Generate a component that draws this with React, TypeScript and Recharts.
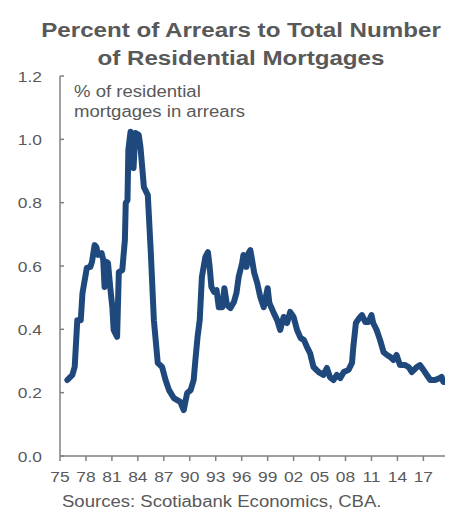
import React from 'react';
import { LineChart, Line, XAxis, YAxis } from 'recharts';

// readings (year as decimal, % of mortgages in arrears)
const years = [
  1975.85, 1976.43, 1976.7, 1977.0, 1977.4, 1977.6, 1978.1, 1978.5, 1978.7, 1979.0,
  1979.2, 1979.4, 1979.8, 1980.0, 1980.15, 1980.4, 1980.55, 1980.8, 1981.05, 1981.2,
  1981.6, 1981.8, 1982.2, 1982.3, 1982.5, 1982.6, 1982.8, 1982.9, 1983.15, 1983.35,
  1983.5, 1983.7, 1984.1, 1984.3, 1984.7, 1985.15, 1985.5, 1985.85, 1986.3, 1986.8,
  1987.2, 1987.6, 1988.15, 1988.9, 1989.3, 1989.7, 1990.1, 1990.45, 1990.65, 1990.9,
  1991.15, 1991.4, 1991.8, 1992.1, 1992.3, 1992.5, 1992.8, 1993.1, 1993.35, 1993.75,
  1994.0, 1994.3, 1994.7, 1995.1, 1995.4, 1995.65, 1996.05, 1996.2, 1996.55, 1996.8,
  1997.0, 1997.2, 1997.45, 1997.8, 1998.15, 1998.55, 1999.0, 1999.2, 1999.7, 2000.1,
  2000.45, 2000.85, 2001.25, 2001.6, 2002.0, 2002.4, 2002.8, 2003.2, 2003.55, 2003.9,
  2004.3, 2004.9, 2005.45, 2005.85, 2006.2, 2006.6, 2007.0, 2007.4, 2007.8, 2008.35,
  2008.75, 2008.9, 2009.2, 2009.6, 2009.9, 2010.3, 2010.65, 2011.0, 2011.2, 2011.6,
  2012.0, 2012.4, 2012.8, 2013.15, 2013.55, 2013.9, 2014.3, 2014.9, 2015.3, 2015.65,
  2016.25, 2016.6, 2017.0, 2017.4, 2017.8, 2018.35, 2018.9, 2019.1, 2019.3, 2019.5,
];

const arrears = [
  0.24, 0.256, 0.282, 0.429, 0.429, 0.515, 0.594, 0.597, 0.613, 0.666,
  0.66, 0.635, 0.641, 0.619, 0.534, 0.613, 0.609, 0.534, 0.47, 0.398,
  0.376, 0.581, 0.587, 0.619, 0.682, 0.799, 0.808, 0.966, 1.024, 0.935,
  0.909, 1.02, 1.014, 0.976, 0.849, 0.824, 0.641, 0.429, 0.294, 0.281,
  0.24, 0.208, 0.183, 0.171, 0.145, 0.199, 0.208, 0.24, 0.303, 0.376,
  0.429, 0.565, 0.628, 0.644, 0.597, 0.534, 0.518, 0.524, 0.47, 0.47,
  0.53, 0.477, 0.467, 0.486, 0.515, 0.565, 0.609, 0.635, 0.597, 0.641,
  0.65, 0.619, 0.578, 0.546, 0.502, 0.47, 0.53, 0.483, 0.452, 0.429,
  0.398, 0.439, 0.42, 0.455, 0.439, 0.398, 0.373, 0.366, 0.344, 0.325,
  0.281, 0.265, 0.256, 0.278, 0.249, 0.24, 0.256, 0.246, 0.265, 0.272,
  0.294, 0.344, 0.42, 0.436, 0.445, 0.423, 0.423, 0.445, 0.42, 0.398,
  0.366, 0.328, 0.319, 0.313, 0.303, 0.319, 0.287, 0.287, 0.281, 0.265,
  0.281, 0.287, 0.272, 0.256, 0.24, 0.24, 0.246, 0.25, 0.234, 0.234,
];

const xTicks = [1975, 1978, 1981, 1984, 1987, 1990, 1993, 1996, 1999, 2002, 2005, 2008, 2011, 2014, 2017];
const yTicks = [0, 0.2, 0.4, 0.6, 0.8, 1.0, 1.2];

const data = years.map((year, i) => ({ year, value: arrears[i] }));

const FONT = '"Liberation Sans", Arial, sans-serif';
const GREY = '#595959';
const AXIS = '#808080';
const STRETCH = 1.16;

const YTick = (props: any) => {
  const { x, y, payload } = props;
  return (
    <g>
      <line x1={60} x2={64} y1={y} y2={y} stroke={AXIS} strokeWidth={1.5} />
      <g transform={`translate(${x},${y}) scale(${STRETCH},1)`}>
        <text x={0} y={0} dy={5.5} textAnchor="end" fontFamily={FONT} fontSize={15} fill={GREY}>
          {Number(payload.value).toFixed(1)}
        </text>
      </g>
    </g>
  );
};

const XTick = (props: any) => {
  const { x, y, payload } = props;
  return (
    <g transform={`translate(${x},${y}) scale(${STRETCH},1)`}>
      <text x={0} y={0} dy={21} textAnchor="middle" fontFamily={FONT} fontSize={15} fill={GREY}>
        {String(payload.value).slice(2)}
      </text>
    </g>
  );
};

const App: React.FC = () => {
  return (
    <div style={{ position: 'absolute', left: 0, top: 0, width: 459, height: 516, background: '#fff' }}>
      <LineChart width={459} height={516} data={data} margin={{ top: 76, right: 14, bottom: 30, left: 0 }}>
        <XAxis
          dataKey="year"
          type="number"
          domain={[1975, 2019.5]}
          ticks={xTicks}
          interval={0}
          height={30}
          tickSize={5}
          tickMargin={0}
          axisLine={{ stroke: AXIS, strokeWidth: 1.5 }}
          tickLine={{ stroke: AXIS, strokeWidth: 1.5 }}
          tick={<XTick />}
          allowDataOverflow
        />
        <YAxis
          domain={[0, 1.2]}
          ticks={yTicks}
          interval={0}
          width={60}
          tickSize={0}
          tickMargin={18}
          axisLine={{ stroke: AXIS, strokeWidth: 1.5 }}
          tickLine={false}
          tick={<YTick />}
        />
        <Line
          type="linear"
          dataKey="value"
          stroke="#1F497D"
          strokeWidth={6}
          strokeLinejoin="round"
          strokeLinecap="round"
          dot={false}
          isAnimationActive={false}
        />
      </LineChart>
      <svg width={459} height={516} style={{ position: 'absolute', left: 0, top: 0, pointerEvents: 'none' }}>
        <g transform={`translate(241,37) scale(1.15,1)`}>
          <text textAnchor="middle" fontFamily={FONT} fontWeight="bold" fontSize={21} fill={GREY}>
            Percent of Arrears to Total Number
          </text>
        </g>
        <g transform={`translate(241,65) scale(1.15,1)`}>
          <text textAnchor="middle" fontFamily={FONT} fontWeight="bold" fontSize={21} fill={GREY}>
            of Residential Mortgages
          </text>
        </g>
        <g transform={`translate(74,97) scale(${STRETCH},1)`}>
          <text fontFamily={FONT} fontSize={16} fill={GREY}>% of residential</text>
        </g>
        <g transform={`translate(74,117) scale(${STRETCH},1)`}>
          <text fontFamily={FONT} fontSize={16} fill={GREY}>mortgages in arrears</text>
        </g>
        <g transform={`translate(62,507) scale(${STRETCH},1)`}>
          <text fontFamily={FONT} fontSize={16} fill={GREY}>Sources: Scotiabank Economics, CBA.</text>
        </g>
      </svg>
    </div>
  );
};

export default App;
